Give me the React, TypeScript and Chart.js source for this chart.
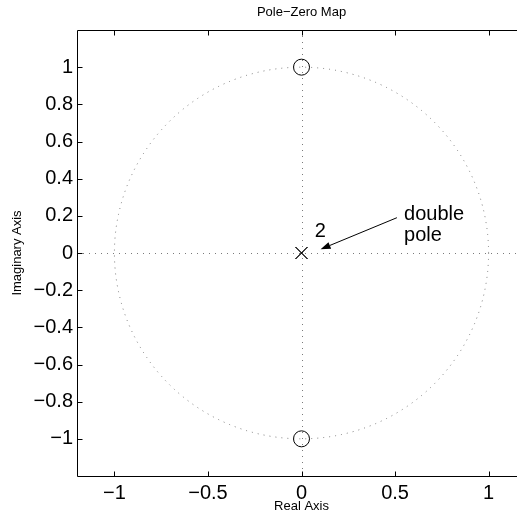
import React, { useEffect, useRef } from "react";
import { Chart, registerables } from "chart.js";

Chart.register(...registerables);

// ---- data ----
const zeroRe = [0, 0];
const zeroIm = [1, -1];
const poleRe = [0, 0];
const poleIm = [0, 0];
const xTickValues = [-1, -0.5, 0, 0.5, 1];
const yTickValues = [-1, -0.8, -0.6, -0.4, -0.2, 0, 0.2, 0.4, 0.6, 0.8, 1];
const xLimits = [-1.2, 1.2];
const yLimits = [-1.2, 1.2];
const unitCircleRadius = 1;
const multiplicityText = "2";
const multiplicityAt = [0.071, 0.085];
const noteLines = ["double", "pole"];
const noteX = 0.548;
const noteLineY = [0.178, 0.067];
const arrowFrom = [0.51, 0.19];
const arrowTo = [0.102, 0.02];

const FONT = '"Liberation Sans", Arial, Helvetica, sans-serif';

const fmt = (v: number) => String(Math.round(v * 10) / 10).replace("-", "\u2212");

const pzPlugin = {
  id: "pzDecor",
  beforeDatasetsDraw(chart: any) {
    const { ctx, chartArea: a, scales } = chart;
    const x = scales.x;
    const y = scales.y;
    ctx.save();
    ctx.beginPath();
    ctx.rect(a.left, a.top, a.right - a.left, a.bottom - a.top);
    ctx.clip();
    ctx.strokeStyle = "#7a7a7a";
    ctx.lineWidth = 1;
    ctx.setLineDash([1, 5]);
    const x0 = Math.round(x.getPixelForValue(0)) + 0.5;
    const y0 = Math.round(y.getPixelForValue(0)) + 0.5;
    ctx.beginPath();
    ctx.moveTo(a.left, y0);
    ctx.lineTo(a.right, y0);
    ctx.stroke();
    ctx.beginPath();
    ctx.moveTo(x0, a.top);
    ctx.lineTo(x0, a.bottom);
    ctx.stroke();
    const cx = x.getPixelForValue(0);
    const cy = y.getPixelForValue(0);
    const rx = x.getPixelForValue(unitCircleRadius) - cx;
    const ry = cy - y.getPixelForValue(unitCircleRadius);
    ctx.beginPath();
    ctx.ellipse(cx, cy, rx, ry, 0, 0, Math.PI * 2);
    ctx.stroke();
    ctx.restore();
  },
  afterDatasetsDraw(chart: any) {
    const { ctx, chartArea: a, scales } = chart;
    const x = scales.x;
    const y = scales.y;
    ctx.save();
    ctx.strokeStyle = "#000";
    ctx.lineWidth = 1;
    ctx.setLineDash([]);
    const L = Math.round(a.left) + 0.5;
    const R = Math.round(a.right) + 0.5;
    const T = Math.round(a.top) + 0.5;
    const B = Math.round(a.bottom) + 0.5;
    ctx.beginPath();
    ctx.rect(L, T, R - L, B - T);
    ctx.stroke();
    const tl = 5;
    ctx.beginPath();
    xTickValues.forEach((v) => {
      const px = Math.round(x.getPixelForValue(v)) + 0.5;
      ctx.moveTo(px, T);
      ctx.lineTo(px, T + tl);
      ctx.moveTo(px, B);
      ctx.lineTo(px, B - tl);
    });
    yTickValues.forEach((v) => {
      const py = Math.round(y.getPixelForValue(v)) + 0.5;
      ctx.moveTo(L, py);
      ctx.lineTo(L + tl, py);
      ctx.moveTo(R, py);
      ctx.lineTo(R - tl, py);
    });
    ctx.stroke();

    // annotations
    ctx.fillStyle = "#000";
    ctx.font = `20px ${FONT}`;
    ctx.textAlign = "left";
    ctx.textBaseline = "alphabetic";
    ctx.fillText(multiplicityText, x.getPixelForValue(multiplicityAt[0]), y.getPixelForValue(multiplicityAt[1]));
    noteLines.forEach((t, i) => {
      ctx.fillText(t, x.getPixelForValue(noteX), y.getPixelForValue(noteLineY[i]));
    });

    // arrow
    const sx = x.getPixelForValue(arrowFrom[0]);
    const sy = y.getPixelForValue(arrowFrom[1]);
    const ex = x.getPixelForValue(arrowTo[0]);
    const ey = y.getPixelForValue(arrowTo[1]);
    const ang = Math.atan2(ey - sy, ex - sx);
    const hl = 10;
    const hw = 3.5;
    const bx = ex - hl * Math.cos(ang);
    const by = ey - hl * Math.sin(ang);
    ctx.beginPath();
    ctx.moveTo(sx, sy);
    ctx.lineTo(bx, by);
    ctx.stroke();
    ctx.beginPath();
    ctx.moveTo(ex, ey);
    ctx.lineTo(bx + hw * Math.sin(ang), by - hw * Math.cos(ang));
    ctx.lineTo(bx - hw * Math.sin(ang), by + hw * Math.cos(ang));
    ctx.closePath();
    ctx.fill();
    ctx.restore();
  },
};

export default function App() {
  const ref = useRef<HTMLCanvasElement | null>(null);
  useEffect(() => {
    if (!ref.current) return;
    Chart.defaults.font.family = FONT;
    const chart = new Chart(ref.current, {
      type: "scatter",
      data: {
        datasets: [
          {
            label: "Zeros",
            data: zeroRe.map((re, i) => ({ x: re, y: zeroIm[i] })),
            pointStyle: "circle",
            pointRadius: 8,
            pointHoverRadius: 8,
            borderColor: "#000",
            backgroundColor: "rgba(0,0,0,0)",
            borderWidth: 1,
          },
          {
            label: "Poles",
            data: poleRe.map((re, i) => ({ x: re, y: poleIm[i] })),
            pointStyle: "crossRot",
            pointRadius: 8.5,
            pointHoverRadius: 8.5,
            borderColor: "#000",
            backgroundColor: "#000",
            borderWidth: 1,
          },
        ],
      },
      options: {
        responsive: false,
        animation: false,
        events: [],
        layout: { padding: { top: 0, right: 14, bottom: 0, left: 0 } },
        plugins: {
          legend: { display: false },
          tooltip: { enabled: false },
          title: {
            display: true,
            text: "Pole\u2212Zero Map",
            fullSize: false,
            color: "#000",
            font: { size: 13, weight: "normal", family: FONT },
            padding: { top: 5, bottom: 9.4 },
          },
        },
        scales: {
          x: {
            type: "linear",
            min: xLimits[0],
            max: xLimits[1],
            grid: { display: false, drawTicks: false },
            border: { display: false },
            ticks: {
              color: "#000",
              font: { size: 20, family: FONT },
              padding: 5,
              maxRotation: 0,
              autoSkip: false,
              callback: (v: any) => fmt(Number(v)),
            },
            afterBuildTicks: (s: any) => {
              s.ticks = xTickValues.map((v) => ({ value: v }));
            },
            afterFit: (s: any) => {
              s.height = 45;
            },
            title: {
              display: true,
              text: "Real Axis",
              color: "#000",
              font: { size: 13, family: FONT },
              padding: { top: 0, bottom: 6.7 },
            },
          },
          y: {
            type: "linear",
            min: yLimits[0],
            max: yLimits[1],
            grid: { display: false, drawTicks: false },
            border: { display: false },
            ticks: {
              color: "#000",
              font: { size: 20, family: FONT },
              padding: 4,
              autoSkip: false,
              callback: (v: any) => fmt(Number(v)),
            },
            afterBuildTicks: (s: any) => {
              s.ticks = yTickValues.map((v) => ({ value: v }));
            },
            afterFit: (s: any) => {
              s.width = 77;
            },
            title: {
              display: true,
              text: "Imaginary Axis",
              color: "#000",
              font: { size: 13, family: FONT },
              padding: { top: 10, bottom: 0 },
            },
          },
        },
      } as any,
      plugins: [pzPlugin],
    });
    return () => chart.destroy();
  }, []);

  return (
    <div
      style={{
        position: "fixed",
        left: 0,
        top: 0,
        width: 517,
        height: 521,
        overflow: "hidden",
        background: "#fff",
      }}
    >
      <canvas ref={ref} width={540} height={521} style={{ width: 540, height: 521, display: "block" }} />
    </div>
  );
}
